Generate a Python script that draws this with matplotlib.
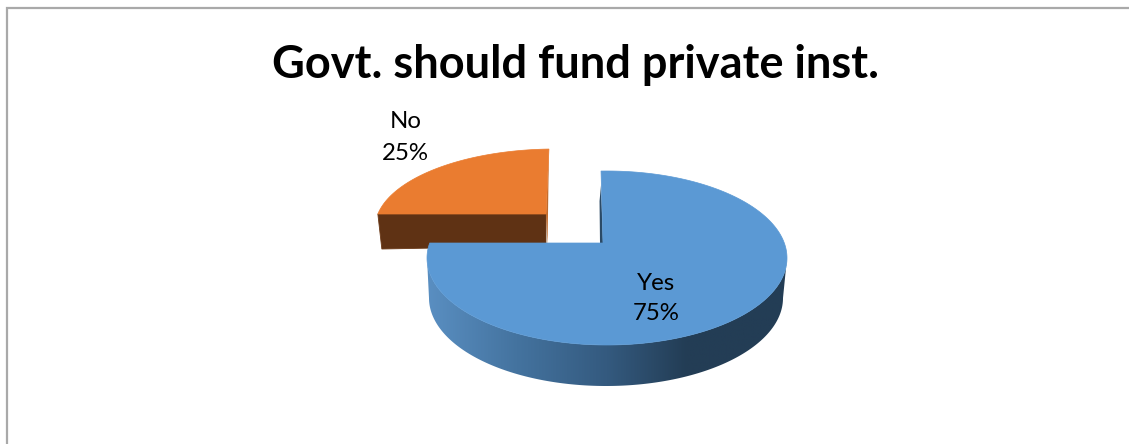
"""Exploded 3D-style pie: Govt. should fund private inst."""

import numpy as np
import matplotlib
matplotlib.use("Agg")
import matplotlib.pyplot as plt
from matplotlib.colors import LinearSegmentedColormap
from matplotlib.patches import Polygon

plt.rcParams["font.family"] = ["Lato", "DejaVu Sans"]

TITLE = "Govt. should fund private inst."
LABELS = ["Yes", "No"]
VALUES = [75, 25]

W, H = 1129, 444
START_ANGLE = 90.0  # slices run clockwise from 12 o'clock
SQUASH = 0.44


def slice_angles(values):
    """Start and end angle of every slice, in degrees, going clockwise."""
    total = sum(values)
    out = []
    a = START_ANGLE
    for v in values:
        b = a - 360.0 * v / total
        out.append((a, b))
        a = b
    return out


def rim_point(deg, apex, centre, a, b, lean=0.0):
    """Where a ray from the slice apex hits the tilted rim ellipse."""
    t = np.radians(deg)
    dx = np.cos(t) + lean * np.sin(t)
    dy = -SQUASH * np.sin(t)
    ox = (apex[0] - centre[0]) / a
    oy = (apex[1] - centre[1]) / b
    ux, uy = dx / a, dy / b
    qa = ux * ux + uy * uy
    qb = 2 * (ox * ux + oy * uy)
    qc = ox * ox + oy * oy - 1
    s = (-qb + np.sqrt(qb * qb - 4 * qa * qc)) / (2 * qa)
    return apex[0] + s * dx, apex[1] + s * dy


def rim(a0, a1, apex, centre, a, b, lean=0.0, n=200):
    return np.array([rim_point(d, apex, centre, a, b, lean) for d in np.linspace(a0, a1, n)])


fig = plt.figure(figsize=(W / 100, H / 100), dpi=100)
ax = fig.add_axes([0, 0, 1, 1])
ax.set_xlim(0, W)
ax.set_ylim(H, 0)
ax.axis("off")

# chart frame: only left and top edges are in view
ax.plot([7, 7, W], [H, 8.5, 8.5], color="#a9a9a9", lw=1.6, solid_joinstyle="miter")

ax.text(575, 65, TITLE, ha="center", va="center", fontsize=32.5, fontweight="bold", color="black")

yes_span, no_span = slice_angles(VALUES)

# --- No slice (pulled out to the upper left) ---
apex_no = (546, 214)
centre_no = (555, 228)
a_no, b_no = 180, 79
depth_no = 32
top_no = rim(no_span[0], no_span[1], apex_no, centre_no, a_no, b_no, lean=0.02)
left_no, up_no = top_no[0], top_no[-1]

front = np.array([left_no, apex_no, (apex_no[0], apex_no[1] + depth_no),
                  (left_no[0] + 4, left_no[1] + depth_no + 3)])
ax.add_patch(Polygon(front, closed=True, fc="#5f3214", ec="#6b3a18", lw=0.6))
# narrow lit edge down the back of the slice
sliver = np.array([up_no, apex_no, (apex_no[0] + 1.5, apex_no[1] + depth_no), (apex_no[0] + 2, apex_no[1])])
ax.add_patch(Polygon(sliver, closed=True, fc="#bf6a2c", ec="none"))
ax.add_patch(Polygon(np.vstack([[apex_no], top_no]), closed=True, fc="#ea7c30", ec="#ea7c30", lw=0.5))

# --- Yes slice ---
apex_yes = (603, 243)
centre_yes = (607, 258)
a_yes, b_yes = 180, 87
centre_low = (606, 298)
a_low, b_low = 177, 88

# outer wall, shaded left to right
t = np.linspace(np.pi, 0, 300)
upper = np.column_stack([centre_yes[0] + a_yes * np.cos(t), centre_yes[1] + b_yes * np.sin(t)])
lower = np.column_stack([centre_low[0] + a_low * np.cos(t), centre_low[1] + b_low * np.sin(t)])
wall = Polygon(np.vstack([upper, lower[::-1]]), closed=True, fc="none", ec="none")
ax.add_patch(wall)
wall_cmap = LinearSegmentedColormap.from_list(
    "wall", [(0.0, "#5a8fc2"), (0.25, "#44739f"), (0.5, "#345a7f"), (0.72, "#233d55"), (1.0, "#233d55")])
grad = ax.imshow(np.linspace(0, 1, 256)[None, :], cmap=wall_cmap, aspect="auto",
                 extent=(426, 788, 390, 250), zorder=1.5)
grad.set_clip_path(wall)
ax.set_xlim(0, W)
ax.set_ylim(H, 0)

top_yes = rim(yes_span[0], yes_span[1], apex_yes, centre_yes, a_yes, b_yes, lean=-0.012)

# thin dark cut face beside the vertical edge
cut = np.array([top_yes[0] + (0, 14), apex_yes, (apex_yes[0] - 3, apex_yes[1]), top_yes[0] + (-1.5, 30)])
ax.add_patch(Polygon(cut, closed=True, fc="#2b4a66", ec="none", zorder=2))
ax.add_patch(Polygon(np.vstack([[apex_yes], top_yes]), closed=True, fc="#5b99d4", ec="#5b99d4", lw=0.5, zorder=3))

# data labels: name above percent
ax.text(656.5, 283, LABELS[0], ha="center", va="center", fontsize=17.3, color="black", zorder=4)
ax.text(656.5, 313, f"{VALUES[0]}%", ha="center", va="center", fontsize=17.3, color="black", zorder=4)
ax.text(406, 121, LABELS[1], ha="center", va="center", fontsize=17.3, color="black", zorder=4)
ax.text(405.5, 153, f"{VALUES[1]}%", ha="center", va="center", fontsize=17.3, color="black", zorder=4)

fig.savefig("out.png", dpi=100)
